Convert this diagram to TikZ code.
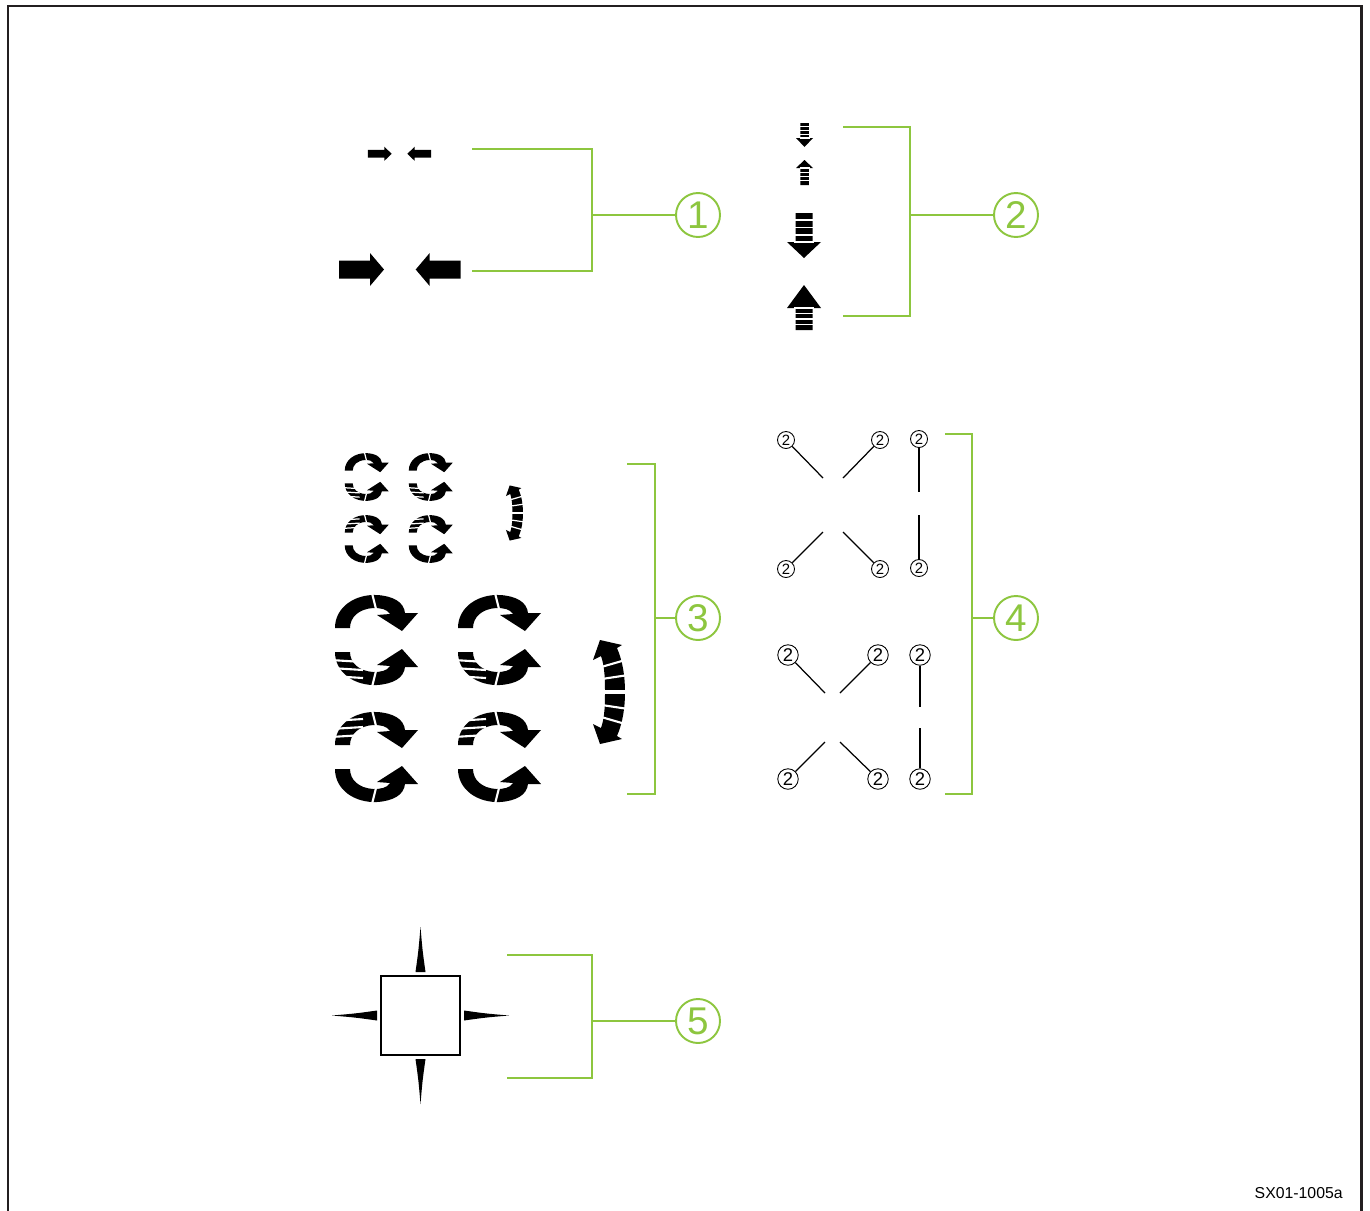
\documentclass[tikz,border=0pt]{standalone}
\usepackage{fontspec}
\setmainfont{Liberation Sans}
\definecolor{leafgreen}{RGB}{141,198,63}
\definecolor{framegray}{RGB}{35,31,32}
% ribbon of one turning arrow (upper half), centre of the pair at the origin
\newcommand{\turnribbon}{%
  \fill (-42,-12) .. controls (-42,-33) and (-22,-46) .. (0,-45)
        .. controls (16,-44) and (27,-38) .. (28,-27)
        -- (41,-27) -- (25,-9) -- (0,-25) -- (13,-26)
        .. controls (10,-31) and (4,-32) .. (-4,-32)
        .. controls (-18,-31) and (-27,-23) .. (-27,-12) -- cycle;
  \draw[ribbongap] (-5,-47) -- (-1,-31);}
\tikzset{
  bracketline/.style={leafgreen, line width=1.1pt},
  numcirc/.style={circle, draw=leafgreen, line width=1.1pt, minimum size=0.88cm,
    inner sep=0pt, text=leafgreen, font=\fontsize{22}{22}\selectfont},
  twosmall/.style={circle, draw, line width=0.5pt, minimum size=0.34cm, inner sep=0pt,
    font=\fontsize{8.5}{8.5}\selectfont},
  twolarge/.style={twosmall, minimum size=0.41cm, font=\fontsize{10.5}{10.5}\selectfont},
  leader/.style={line width=0.7pt},
  ribbongap/.style={white, line width=1.2pt},
  barsgap/.style={white, line width=0.9pt},
  % push arrow, tip at the origin, pointing right
  pics/pusharrow/.style={code={
    \fill (0,0) -- (-14,-16.5) -- (-14,-9) -- (-45,-9) -- (-45,9) -- (-14,9) -- (-14,16.5) -- cycle;
  }},
  % barred arrow, tip at the origin, pointing down; #1 head, #2 shaft
  pics/barred/.style 2 args={code={
    \fill (0,0) -- (-17,-#1) -- (-8.5,-#1) -- (-8.5,{-#1-#2}) -- (8.5,{-#1-#2})
          -- (8.5,-#1) -- (17,-#1) -- cycle;
    \foreach \k in {0,...,3}
      \draw[barsgap] (-10,{-#1-\k*#2/4}) -- (10,{-#1-\k*#2/4});
  }},
  pics/halfturn/.style={code={\turnribbon}},
  pics/halfturnstriped/.style={code={
    \turnribbon
    \foreach \sy in {-20,-28,-36}
      \draw[ribbongap] (-46,\sy) -- (-14,\sy-2);
  }},
  % double headed swing arrow
  pics/swingarrow/.style={code={
    \fill (-10,-52) -- (12,-47) -- (7,-44)
          .. controls (13,-30) and (15,-15) .. (15,0)
          .. controls (15,15) and (13,30) .. (7,44)
          -- (12,47) -- (-10,52) -- (-17,32) -- (-9,36)
          .. controls (-5,25) and (-5,10) .. (-5,0)
          .. controls (-5,-10) and (-5,-25) .. (-9,-36)
          -- (-17,-32) -- cycle;
    \foreach \sy in {-29,-15,15,29}
      \draw[ribbongap] (-15,0.8*\sy) -- (20,1.15*\sy);
    \draw[ribbongap] (-15,-1) -- (20,-1);
    \draw[ribbongap] (-15,1) -- (20,1);
  }},
}
\begin{document}
\begin{tikzpicture}[x=0.02cm, y=-0.02cm]
    \useasboundingbox (0,0) rectangle (1370,1211);

    % frame
    \draw[framegray, line width=1.7pt] (8,1211) -- (8,6) -- (1361,6) -- (1361,1211);

    % 1: push arrows
    \pic[xscale=0.53, yscale=0.43] at (391.7,153.8) {pusharrow};
    \pic[xscale=-0.53, yscale=0.43] at (407.3,153.8) {pusharrow};
    \pic at (384,269.5) {pusharrow};
    \pic[xscale=-1] at (415.7,269.5) {pusharrow};

    % 2: barred arrows
    \pic[scale=0.5, barsgap/.style={white, line width=0.6pt}] at (804.5,147) {barred={18}{30}};
    \pic[scale=0.5, yscale=-1, barsgap/.style={white, line width=0.6pt}] at (804.5,160) {barred={16}{34}};
    \pic at (804,258) {barred={16}{29}};
    \pic[yscale=-1] at (804,285) {barred={23}{22}};

    % 3: turning arrows, small
    \begin{scope}[ribbongap/.style={white, line width=0.7pt}]
      \foreach \cx in {367,431} {
        \pic[scale=0.53] at (\cx,477) {halfturn};
        \pic[scale=0.53, yscale=-1] at (\cx,477) {halfturnstriped};
        \pic[scale=0.53] at (\cx,539) {halfturnstriped};
        \pic[scale=0.53, yscale=-1] at (\cx,539) {halfturn};
      }
      \pic[scale=0.53] at (515,513) {swingarrow};
    \end{scope}

    % 3: turning arrows, large
    \foreach \cx in {377,500} {
      \pic at (\cx,640) {halfturn};
      \pic[yscale=-1] at (\cx,640) {halfturnstriped};
      \pic at (\cx,757) {halfturnstriped};
      \pic[yscale=-1] at (\cx,757) {halfturn};
    }
    \pic at (610,692) {swingarrow};

    % 4: circled twos, small set
    \node[twosmall] (ta) at (786,440) {2};
    \node[twosmall] (tb) at (880,440) {2};
    \node[twosmall] (tc) at (919,439) {2};
    \node[twosmall] (td) at (786,569) {2};
    \node[twosmall] (te) at (880,569) {2};
    \node[twosmall] (tf) at (919,568) {2};
    \coordinate (tae) at (823,478);
    \coordinate (tbe) at (843,478);
    \coordinate (tce) at (919,492);
    \coordinate (tde) at (823,532);
    \coordinate (tee) at (843,532);
    \coordinate (tfe) at (919,515);
    \foreach \n in {ta,tb,tc,td,te,tf}
      \draw[leader] (\n) -- (\n e);

    % 4: circled twos, large set
    \node[twolarge] (ua) at (788,655) {2};
    \node[twolarge] (ub) at (878,655) {2};
    \node[twolarge] (uc) at (920,655) {2};
    \node[twolarge] (ud) at (788,779) {2};
    \node[twolarge] (ue) at (878,779) {2};
    \node[twolarge] (uf) at (920,779) {2};
    \coordinate (uae) at (825,693);
    \coordinate (ube) at (840,693);
    \coordinate (uce) at (920,707);
    \coordinate (ude) at (825,742);
    \coordinate (uee) at (840,742);
    \coordinate (ufe) at (920,728);
    \foreach \n in {ua,ub,uc,ud,ue,uf}
      \draw[leader] (\n) -- (\n e);

    % 5: square with spikes
    \node[draw, line width=0.9pt, minimum size=1.58cm, inner sep=0pt] (sq) at (420.5,1015.5) {};
    \foreach \a in {0,90,180,270}
      \fill[shift={(sq.center)}, rotate=\a]
        (-5,-43.5) .. controls (-2,-65) .. (0,-88.5)
        .. controls (2,-65) .. (5,-43.5) -- cycle;

    % brackets and numbers
    \node[numcirc] (n1) at (698,215) {1};
    \coordinate (g1a) at (472,149);
    \coordinate (g1b) at (472,271);
    \coordinate (j1) at (592,215);
    \draw[bracketline] (g1a) -| (j1) |- (g1b);
    \draw[bracketline] (j1) -- (n1);

    \node[numcirc] (n2) at (1016,215) {2};
    \coordinate (g2a) at (843,127);
    \coordinate (g2b) at (843,316);
    \coordinate (j2) at (910,215);
    \draw[bracketline] (g2a) -| (j2) |- (g2b);
    \draw[bracketline] (j2) -- (n2);

    \node[numcirc] (n3) at (698,618) {3};
    \coordinate (g3a) at (627,464);
    \coordinate (g3b) at (627,794);
    \coordinate (j3) at (655,618);
    \draw[bracketline] (g3a) -| (j3) |- (g3b);
    \draw[bracketline] (j3) -- (n3);

    \node[numcirc] (n4) at (1016,618) {4};
    \coordinate (g4a) at (945,434);
    \coordinate (g4b) at (945,794);
    \coordinate (j4) at (972,618);
    \draw[bracketline] (g4a) -| (j4) |- (g4b);
    \draw[bracketline] (j4) -- (n4);

    \node[numcirc] (n5) at (698,1021) {5};
    \coordinate (g5a) at (507,955);
    \coordinate (g5b) at (507,1078);
    \coordinate (j5) at (592,1021);
    \draw[bracketline] (g5a) -| (j5) |- (g5b);
    \draw[bracketline] (j5) -- (n5);

    % drawing code
    \node[anchor=base east, inner sep=0pt, font=\fontsize{9}{9}\selectfont] (code) at (1343,1198) {SX01-1005a};
\end{tikzpicture}
\end{document}
